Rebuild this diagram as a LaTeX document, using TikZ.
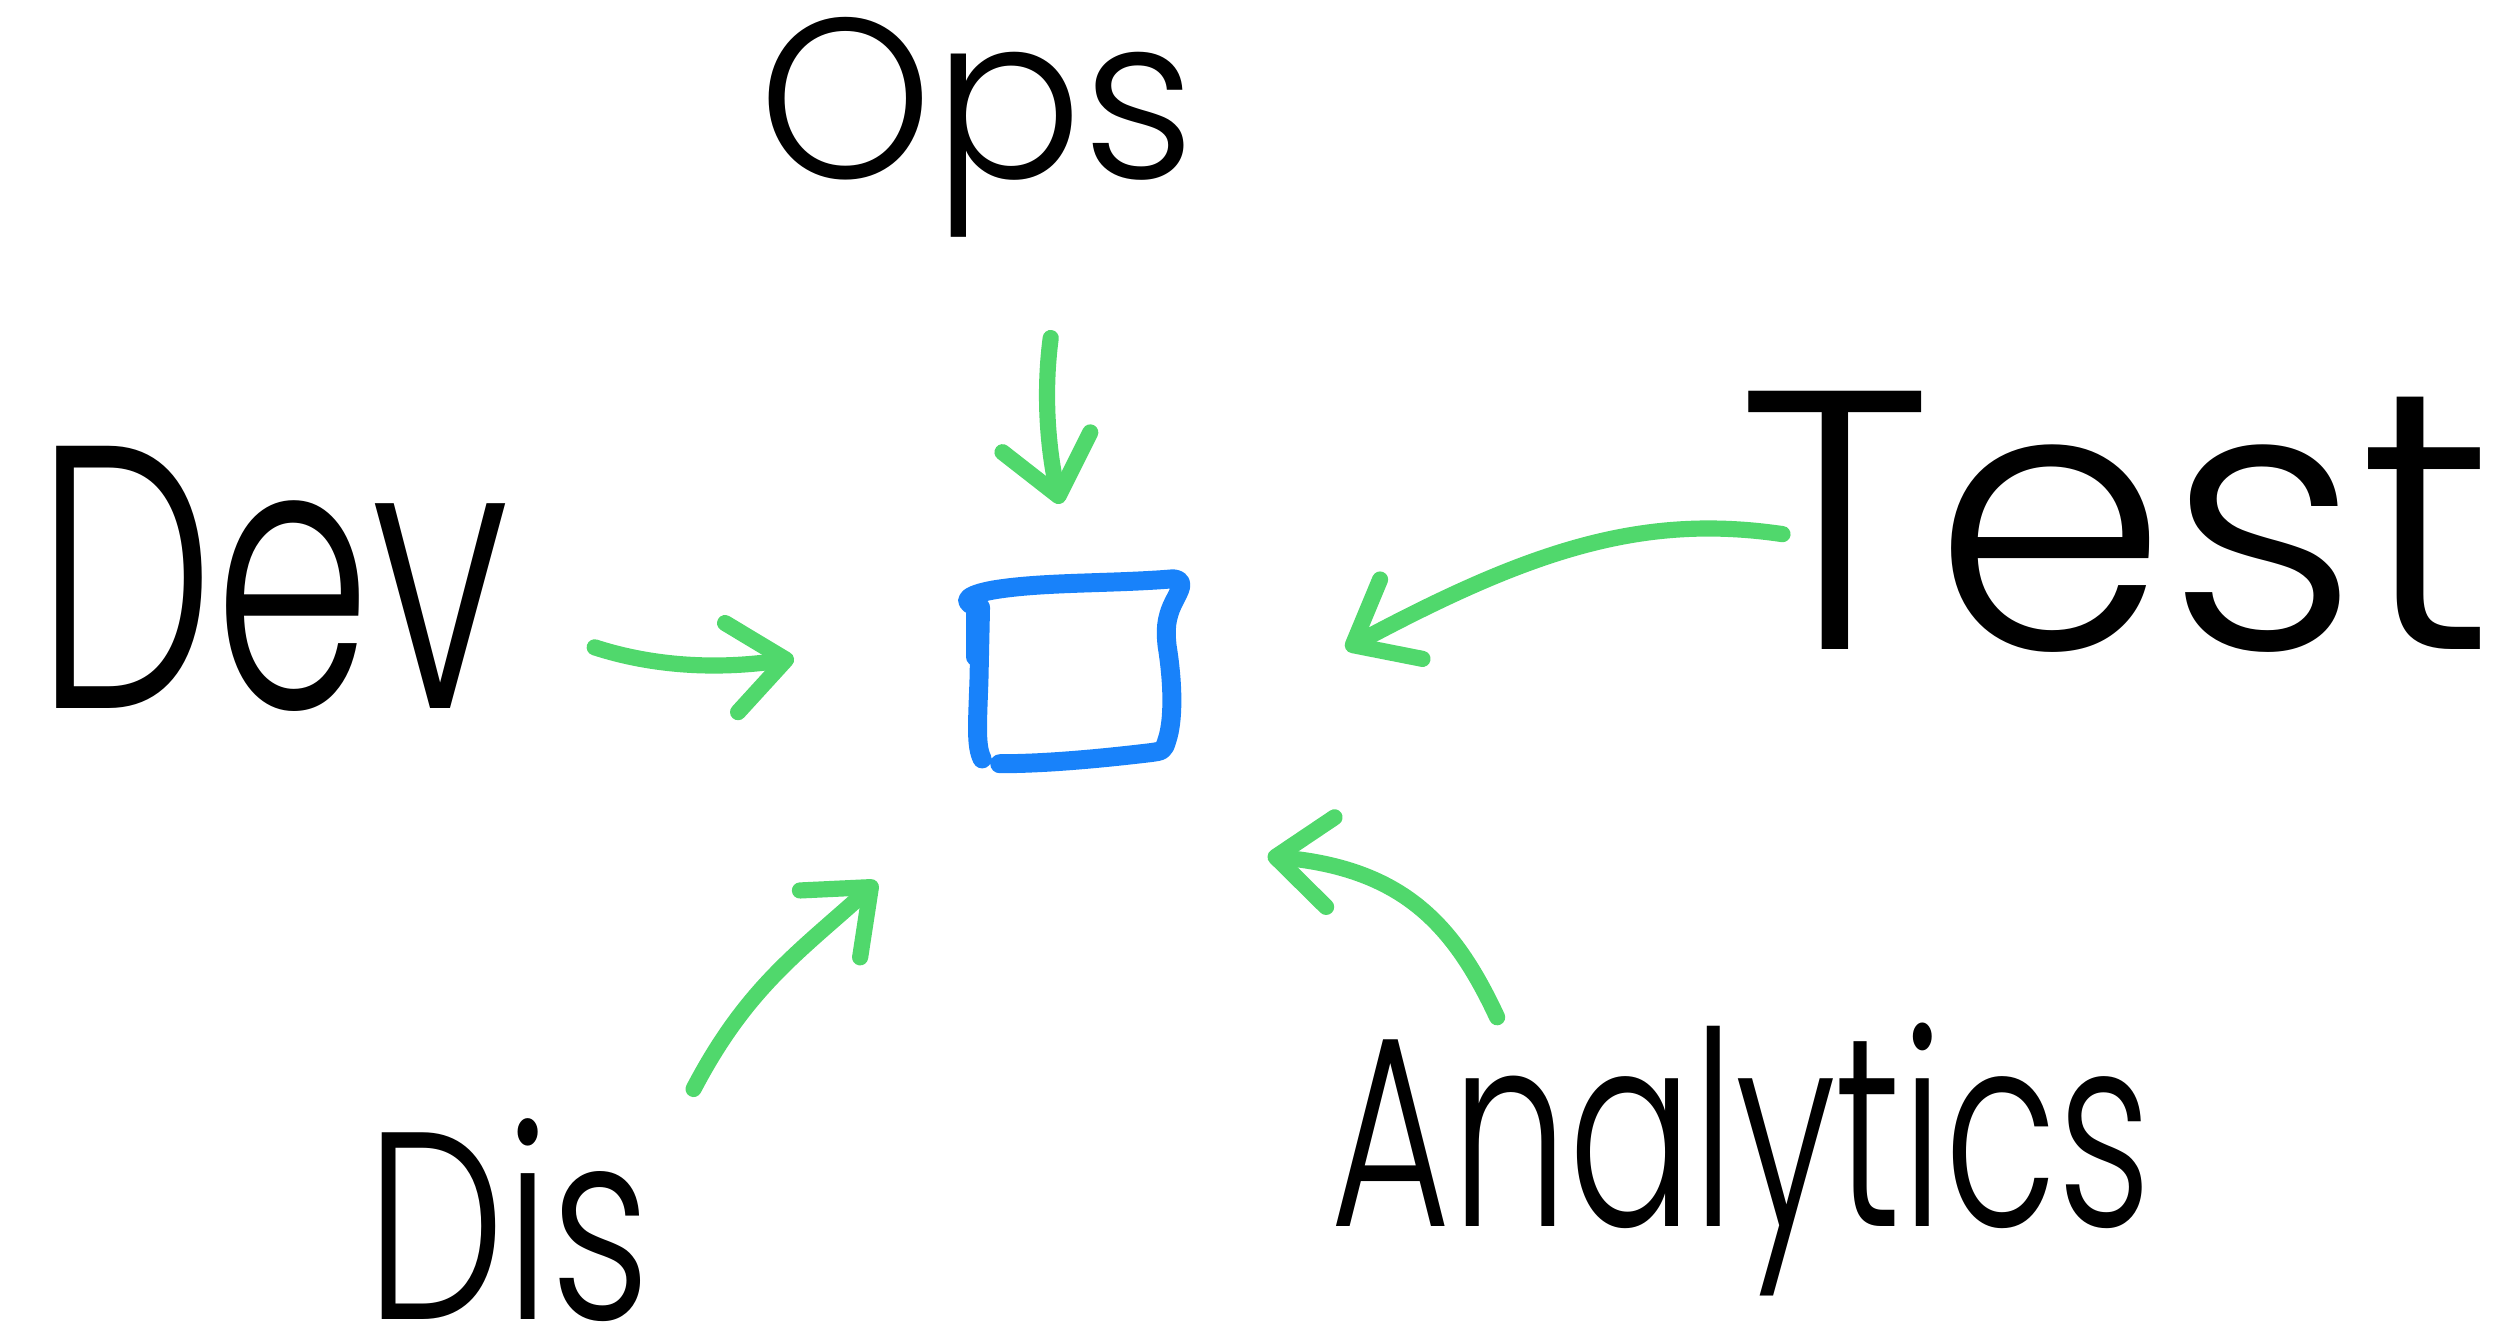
\documentclass[tikz,border=0pt]{standalone}
\usepackage{fontspec}
\setmainfont{Poppins}[UprightFont={* Light}]
\usetikzlibrary{arrows.meta}
\definecolor{caoLv}{RGB}{80,216,108}
\definecolor{caoLan}{RGB}{24,130,250}
\newcommand{\shouxie}[3]{\resizebox*{#1}{#2}{#3}}

\begin{document}
\begin{tikzpicture}[x=0.015944cm,y=-0.015944cm,
        word/.style={inner sep=0pt,text=black},
        greenarrow/.style={draw=caoLv,line width=4.6pt,line cap=round,line join=round,
            -{Straight Barb[length=0.55cm,width=0.9cm,round]}},
        bluebox/.style={draw=caoLan,line width=5.4pt,line cap=round,line join=round}]
        \useasboundingbox (0,0) rectangle (1568,841);
        % 四周的文字
        \node[word] (ops) at (613,80) {\shouxie{4.37cm}{2.2cm}{Ops}};
        \node[word] (dev) at (171,363) {\shouxie{4.73cm}{2.65cm}{Dev}};
        \node[word] (test) at (1327,327) {\shouxie{7.56cm}{2.61cm}{Test}};
        \node[word] (dis) at (319,765) {\shouxie{2.84cm}{2.03cm}{Dis}};
        \node[word] (ana) at (1092,727) {\shouxie{8.21cm}{2.73cm}{Analytics}};
        % 中间的方框
        \coordinate (hub) at (673,422);
        \draw[bluebox] (616,476) .. controls (612,468) and (613,455) .. (614,427)
            -- (615,381) .. controls (600,378) and (606,372) .. (630,369)
            .. controls (660,365) and (700,366) .. (736,363)
            .. controls (744,364) and (740,370) .. (736,378)
            .. controls (731,388) and (731,396) .. (732,405)
            .. controls (736,430) and (736,452) .. (732,464)
            .. controls (730,471) and (729,471) .. (722,472)
            .. controls (680,477) and (650,479) .. (627,479);
        \draw[bluebox] (612,385) -- (612,412);
        % 箭头的起点和终点
        \coordinate (opsA) at (659,212);
        \coordinate (opsB) at (665,316);
        \coordinate (devA) at (373,406);
        \coordinate (devB) at (498,413);
        \coordinate (testA) at (1118,335);
        \coordinate (testB) at (844,407);
        \coordinate (disA) at (435,683);
        \coordinate (disB) at (550,553);
        \coordinate (anaA) at (939,638);
        \coordinate (anaB) at (795,537);
        % 绿色箭头
        \draw[greenarrow] (opsA) .. controls (654,250) and (658,285) .. (opsB);
        \draw[greenarrow] (devA) .. controls (410,418) and (450,420) .. (devB);
        \draw[greenarrow] (testA) .. controls (1030,322) and (960,345) .. (testB);
        \draw[greenarrow] (disA) .. controls (468,620) and (500,598) .. (disB);
        \draw[greenarrow] (anaA) .. controls (912,580) and (880,545) .. (anaB);
\end{tikzpicture}
\end{document}
